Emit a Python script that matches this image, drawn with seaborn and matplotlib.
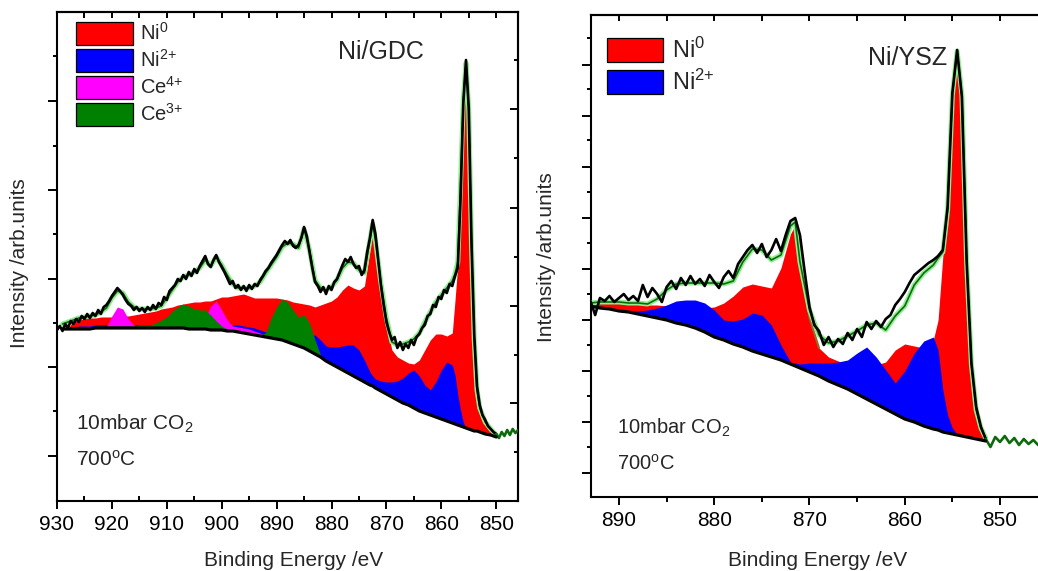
import matplotlib
matplotlib.use('Agg')
import matplotlib.pyplot as plt
import seaborn as sns
import numpy as np
from matplotlib.patches import Patch
from matplotlib.ticker import FixedLocator, MultipleLocator, FormatStrFormatter

# ---------------- Ni/GDC panel: fit on a common energy grid (eV) ----------------
gdc_energy = (list(range(929, 872, -1)) + [872.5] + list(range(872, 857, -1))
              + [857.5, 857, 856.5, 856, 855.5, 855, 854.5, 854, 853.5, 853, 852, 851, 850])
gdc_background = [171, 171, 171, 171, 171, 171, 172, 172, 172, 172,
                  172, 172, 172, 172, 172, 172, 172, 172, 172, 172,
                  172, 172, 172, 171, 171, 171, 171, 170, 170, 170,
                  169, 169, 168, 167, 166, 165, 164, 163, 162, 161,
                  160, 158, 156, 154, 152, 149, 146, 143, 139, 136,
                  133, 130, 127, 124, 121, 118, 115,
                  114, 112, 109, 106, 103, 100, 97, 95,
                  92, 89, 87, 85, 83, 81, 79, 77,
                  76, 75, 74, 73, 72, 71, 70, 69, 69, 68,
                  66, 65, 63]
gdc_envelope = [176, 178, 180, 182, 183, 184, 185, 188, 192, 202,
                209, 207, 198, 193, 191, 191, 191, 192, 194, 202,
                210, 218, 223, 225, 228, 232, 240, 234, 243, 235,
                225, 216, 212, 212, 212, 214, 218, 227, 235, 243,
                253, 257, 256, 252, 271, 250, 220, 212, 210, 213,
                220, 232, 238, 237, 230, 227, 260,
                276, 260, 217, 182, 158, 155, 156, 158,
                161, 167, 178, 188, 198, 205, 212, 219,
                226, 238, 315, 400, 437, 390, 255, 160, 110, 92,
                78, 71, 65]
# component heights above the background
gdc_ni0 = [0, 0, 9, 11, 11, 11, 10, 11, 11, 11,
           12, 12, 12, 13, 14, 15, 16, 17, 19, 20,
           21, 23, 24, 26, 27, 27, 28, 29, 31, 33,
           34, 35, 37, 39, 38, 37, 38, 39, 40, 41,
           41, 42, 42, 43, 44, 46, 47, 52, 58, 63,
           70, 80, 88, 88, 89, 96, 135,
           156, 142, 106, 69, 47, 43, 43, 42,
           44, 51, 63, 75, 83, 85, 85, 90,
           124, 160, 238, 325, 363, 317, 183, 89, 39, 22,
           10, 4, 1]
gdc_ni2 = [0, 0, 1, 3, 3, 3, 3, 3, 3, 3,
           3, 3, 3, 3, 3, 3, 3, 3, 3, 3,
           1, 1, 1, 2, 2, 2, 2, 3, 3, 3,
           5, 6, 7, 7, 7, 7, 6, 5, 4, 3,
           3, 4, 5, 6, 10, 15, 19, 17, 15, 17,
           20, 24, 28, 31, 29, 22, 13,
           10, 9, 10, 12, 15, 19, 25, 32,
           38, 35, 28, 25, 35, 49, 59, 58,
           49, 30, 16, 5, 0, 0, 0, 0, 0, 0,
           0, 0, 0]
gdc_ce4 = [0, 0, 0, 0, 0, 0, 0, 0, 1, 12,
           21, 19, 9, 3, 0, 0, 0, 0, 0, 0,
           0, 0, 0, 0, 0, 2, 11, 24, 29, 20,
           11, 5, 5, 5, 5, 4, 3, 1, 0, 0] + [0] * 46
gdc_ce3 = [0, 0, 1, 2, 2, 2, 2, 2, 2, 2,
           2, 2, 2, 2, 3, 3, 3, 5, 8, 11,
           17, 21, 24, 23, 20, 19, 19, 15, 9, 4,
           2, 1, 1, 1, 1, 1, 1, 4, 20, 32,
           41, 40, 34, 29, 33, 28, 14, 2, 0, 0] + [0] * 36

gdc_raw_energy = np.arange(930, 845.9, -0.5)
gdc_raw = [170, 174, 169, 176, 172, 179, 176, 181, 178, 184,
           181, 186, 182, 187, 184, 190, 186, 193, 195, 199,
           204, 208, 212, 209, 205, 200, 196, 194, 190, 193,
           189, 192, 188, 193, 190, 195, 191, 197, 195, 203,
           200, 209, 212, 215, 221, 219, 225, 221, 228, 224,
           231, 227, 234, 239, 244, 236, 233, 240, 245, 238,
           233, 228, 222, 216, 219, 212, 215, 210, 214, 209,
           215, 211, 216, 214, 220, 224, 229, 232, 237, 241,
           245, 250, 255, 259, 256, 260, 254, 252, 255, 262,
           273, 264, 248, 232, 218, 214, 208, 213, 206, 214,
           210, 218, 221, 228, 235, 241, 238, 243, 236, 232,
           234, 225, 230, 248, 262, 280, 266, 240, 215, 195,
           178, 168, 160, 163, 152, 158, 150, 156, 152, 160,
           155, 163, 166, 172, 175, 184, 186, 195, 193, 203,
           201, 210, 207, 216, 214, 224, 232, 300, 396, 440,
           392, 258, 165, 114, 95, 85, 80, 74, 71, 68,
           66, 62, 68, 64, 70, 65, 71, 67, 70]

# ---------------- Ni/YSZ panel ----------------
ysz_energy = (list(range(893, 871, -1)) + [871.5] + list(range(871, 856, -1))
              + [856.5, 856, 855.5, 855, 854.5, 854, 853.5, 853, 852.5, 852, 851.5])
ysz_background = [191, 189, 188, 186, 185, 183, 181, 179, 177, 174,
                  172, 169, 165, 160, 157, 153, 150, 146, 143, 140,
                  137, 133, 131, 129, 125, 121, 116, 112, 108, 103,
                  98, 93, 88, 83, 78, 75, 71, 68, 67, 65,
                  64, 63, 62, 61, 60, 59, 58, 57, 56]
ysz_envelope = [194, 195, 195, 195, 194, 194, 193, 198, 207, 213,
                214, 214, 214, 214, 213, 216, 235, 248, 247, 237,
                242, 271, 275, 235, 187, 162, 154, 156, 161, 166,
                172, 174, 167, 181, 191, 212, 224, 232, 239, 245,
                287, 402, 446, 402, 234, 132, 87, 69, 59]
ysz_ni0 = [0, 5, 6, 8, 9, 10, 11, 13, 14, 16,
           18, 20, 24, 30, 37, 48, 60, 67, 68, 69,
           92, 130, 141, 106, 54, 28, 24, 24, 25, 27,
           33, 39, 47, 64, 75, 76, 78, 89, 110, 176,
           221, 337, 382, 339, 172, 71, 27, 10, 2]
ysz_ni2 = [0, 0, 0, 1, 1, 3, 6, 10, 15, 22,
           25, 28, 29, 27, 20, 23, 28, 38, 39, 32,
           15, 2, 3, 4, 9, 13, 18, 23, 29, 41,
           52, 47, 39, 31, 48, 69, 85, 92, 80, 42,
           18, 6, 1, 0, 0, 0, 0, 0, 0]

ysz_raw_energy = np.arange(893, 845.9, -0.5)
ysz_raw = [196, 182, 199, 196, 201, 195, 199, 203, 197, 201,
           196, 212, 200, 209, 203, 195, 210, 216, 208, 219,
           212, 221, 213, 218, 211, 222, 215, 209, 220, 226,
           219, 233, 240, 247, 252, 244, 253, 240, 247, 258,
           246, 262, 276, 279, 262, 225, 190, 172, 166, 152,
           160, 150, 158, 153, 164, 157, 168, 160, 175, 168,
           176, 170, 178, 182, 192, 198, 205, 214, 222, 226,
           230, 234, 237, 241, 247, 290, 404, 447, 400, 236,
           134, 90, 70, 58, 50, 60, 55, 61, 54, 59,
           52, 58, 53, 57, 52]

RED, BLUE, MAGENTA, GREEN = '#ff0000', '#0000ff', '#ff00ff', '#008000'
LIGHTGREEN, DKGREEN, BROWN = '#90ee90', '#0b6a0b', '#9a6a2a'
W, H = 1038, 571


def fx(px):
    return px / W


def fy(py):
    return 1 - py / H


sns.set_style('ticks')
plt.rcParams['font.family'] = ['Liberation Sans', 'DejaVu Sans']
plt.rcParams['mathtext.fontset'] = 'custom'
plt.rcParams['mathtext.rm'] = 'Liberation Sans'
plt.rcParams['mathtext.default'] = 'regular'
plt.rcParams['axes.edgecolor'] = 'black'
plt.rcParams['xtick.color'] = 'black'
plt.rcParams['ytick.color'] = 'black'


def draw_panel(ax, energy, background, envelope, comps, raw_e, raw, cut, flanks):
    e = np.array(energy, dtype=float)
    base = np.array(background, dtype=float)
    for h, color in comps:
        ax.fill_between(e, base, base + np.array(h), color=color, lw=0, zorder=2)
    ni0_top = base + np.array(comps[0][0])
    for lo, hi in flanks:
        m = (e >= lo) & (e <= hi)
        ax.plot(e[m], ni0_top[m], color=BROWN, lw=1.5, zorder=3)
    sns.lineplot(x=e, y=envelope, ax=ax, color=LIGHTGREEN, linewidth=3.6,
                 zorder=3, estimator=None, sort=False)
    sns.lineplot(x=e, y=envelope, ax=ax, color=DKGREEN, linewidth=1.2,
                 zorder=3.5, estimator=None, sort=False)
    re_ = np.array(raw_e)
    r = np.array(raw)
    m = re_ >= cut
    sns.lineplot(x=re_[m], y=r[m], ax=ax, color='black', linewidth=1.9,
                 zorder=4, estimator=None, sort=False)
    m = re_ <= cut
    sns.lineplot(x=re_[m], y=r[m], ax=ax, color=DKGREEN, linewidth=1.9,
                 zorder=4, estimator=None, sort=False)
    sns.lineplot(x=e, y=base, ax=ax, color='black', linewidth=2.3,
                 zorder=6, estimator=None, sort=False)


def style_axes(ax, xlim, ylim, lmaj, lmin, rmaj=None, rmin=None, xminor_dir='in'):
    ax.set_xlim(*xlim)
    ax.set_ylim(*ylim)
    ax.set_xlabel('')
    ax.set_ylabel('')
    ax.xaxis.set_major_locator(MultipleLocator(10))
    ax.xaxis.set_minor_locator(MultipleLocator(5))
    ax.xaxis.set_major_formatter(FormatStrFormatter('%d'))
    ax.yaxis.set_major_locator(FixedLocator(lmaj))
    ax.yaxis.set_minor_locator(FixedLocator(lmin))
    ax.tick_params(axis='x', which='major', direction='out', length=6, width=1.4,
                   labelsize=15, pad=4)
    ax.tick_params(axis='x', which='minor', direction=xminor_dir, length=3.5, width=1.4)
    ax.tick_params(axis='y', which='major', direction='out', length=6.5, width=1.4,
                   labelleft=False)
    ax.tick_params(axis='y', which='minor', direction='out', length=3, width=1.4)
    top = ax.secondary_xaxis('top')
    top.xaxis.set_major_locator(MultipleLocator(5))
    top.tick_params(direction='in', length=4, width=1.4, labeltop=False)
    top.spines['top'].set_linewidth(1.5)
    if rmaj is not None:
        right = ax.secondary_yaxis('right')
        right.yaxis.set_major_locator(FixedLocator(rmaj))
        right.yaxis.set_minor_locator(FixedLocator(rmin))
        right.tick_params(which='major', direction='in', length=6, width=1.4, labelright=False)
        right.tick_params(which='minor', direction='in', length=3, width=1.4)
        right.spines['right'].set_linewidth(1.5)
    for s in ax.spines.values():
        s.set_linewidth(1.5)


fig = plt.figure(figsize=(W / 100, H / 100), dpi=100)

# ---- left: Ni/GDC ----
ax1 = fig.add_axes([fx(57), fy(500.7), fx(518) - fx(57), fy(12) - fy(500.7)])
draw_panel(ax1, gdc_energy, gdc_background, gdc_envelope,
           [(gdc_ni0, RED), (gdc_ni2, BLUE), (gdc_ce4, MAGENTA), (gdc_ce3, GREEN)],
           gdc_raw_energy, gdc_raw, 850, [(870, 872.5), (850, 855.5)])
style_axes(ax1, (930, 846.03), (-0.7, 488),
           [44, 133, 221, 310, 399], [89, 177, 266, 354, 444],
           [97, 194, 292, 391], [48, 145, 243, 342, 440], xminor_dir='in')

# ---- right: Ni/YSZ ----
ax2 = fig.add_axes([fx(590.7), fy(497.1), fx(1040) - fx(590.7), fy(14.6) - fy(497.1)])
draw_panel(ax2, ysz_energy, ysz_background, ysz_envelope,
           [(ysz_ni0, RED), (ysz_ni2, BLUE)],
           ysz_raw_energy, ysz_raw, 851.5, [(869, 871.5), (851.5, 854.5)])
style_axes(ax2, (892.97, 845.8), (-0.1, 482.4),
           [24, 75, 126, 177, 228, 279, 330, 381, 432],
           [50, 101, 152, 203, 254, 305, 357, 408, 459], xminor_dir='out')

# legends
labels_gdc = ['Ni$^{0}$', 'Ni$^{2{+}}$', 'Ce$^{4{+}}$', 'Ce$^{3{+}}$']
handles = [Patch(facecolor=c, edgecolor='black', linewidth=0.9)
           for c in [RED, BLUE, MAGENTA, GREEN]]
fig.legend(handles, labels_gdc, loc='upper left', bbox_to_anchor=(fx(76), fy(21.8)),
           bbox_transform=fig.transFigure, frameon=False, fontsize=14.5,
           handlelength=2.83, handleheight=1.42, labelspacing=0.17,
           handletextpad=0.35, borderpad=0, borderaxespad=0)
fig.legend(handles[:2], labels_gdc[:2], loc='upper left', bbox_to_anchor=(fx(607), fy(37.5)),
           bbox_transform=fig.transFigure, frameon=False, fontsize=17,
           handlelength=2.37, handleheight=1.19, labelspacing=0.28,
           handletextpad=0.38, borderpad=0, borderaxespad=0)

# annotations
fig.text(fx(338), fy(59), 'Ni/GDC', ha='left', va='baseline', fontsize=18)
fig.text(fx(868), fy(65), 'Ni/YSZ', ha='left', va='baseline', fontsize=18)
fig.text(fx(76), fy(430), '10mbar CO$_{2}$', ha='left', va='baseline', fontsize=15)
fig.text(fx(76), fy(466), '700$^{o}$C', ha='left', va='baseline', fontsize=15)
fig.text(fx(617), fy(434), '10mbar CO$_{2}$', ha='left', va='baseline', fontsize=14.5)
fig.text(fx(617), fy(470), '700$^{o}$C', ha='left', va='baseline', fontsize=14.5)

# axis titles
fig.text(fx(20), fy(263), 'Intensity /arb.units', rotation=90, ha='center', va='center', fontsize=15)
fig.text(fx(547), fy(257.5), 'Intensity /arb.units', rotation=90, ha='center', va='center', fontsize=15)
fig.text(fx(294), fy(566), 'Binding Energy /eV', ha='center', va='baseline', fontsize=15)
fig.text(fx(818), fy(566), 'Binding Energy /eV', ha='center', va='baseline', fontsize=15)

fig.savefig('out.png', dpi=100)
